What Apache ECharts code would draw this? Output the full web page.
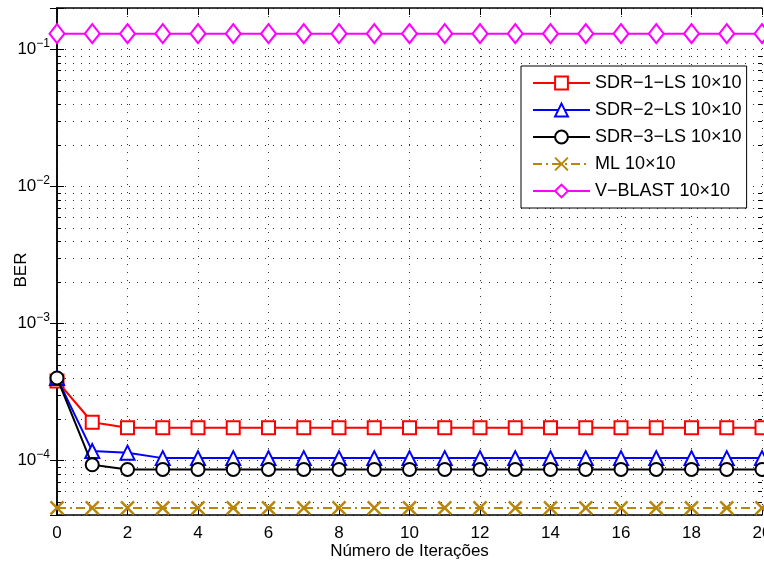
<!DOCTYPE html>
<html>
<head>
<meta charset="utf-8">
<script src="https://cdn.jsdelivr.net/npm/echarts@6/dist/echarts.min.js"></script>
<style>html,body{margin:0;padding:0;background:#fff}#c{width:764px;height:562px}</style>
</head>
<body>
<div id="c"></div>
<script>
const iterations = [0,1,2,3,4,5,6,7,8,9,10,11,12,13,14,15,16,17,18,19,20];
const sdr1 = [3.8e-4,1.9e-4,1.73e-4,1.73e-4,1.73e-4,1.73e-4,1.73e-4,1.73e-4,1.73e-4,1.73e-4,1.73e-4,1.73e-4,1.73e-4,1.73e-4,1.73e-4,1.73e-4,1.73e-4,1.73e-4,1.73e-4,1.73e-4,1.73e-4];
const sdr2 = [4.0e-4,1.17e-4,1.14e-4,1.04e-4,1.04e-4,1.04e-4,1.04e-4,1.04e-4,1.04e-4,1.04e-4,1.04e-4,1.04e-4,1.04e-4,1.04e-4,1.04e-4,1.04e-4,1.04e-4,1.04e-4,1.04e-4,1.04e-4,1.04e-4];
const sdr3 = [4.0e-4,9.3e-5,8.6e-5,8.6e-5,8.6e-5,8.6e-5,8.6e-5,8.6e-5,8.6e-5,8.6e-5,8.6e-5,8.6e-5,8.6e-5,8.6e-5,8.6e-5,8.6e-5,8.6e-5,8.6e-5,8.6e-5,8.6e-5,8.6e-5];
const ml = [4.5e-5,4.5e-5,4.5e-5,4.5e-5,4.5e-5,4.5e-5,4.5e-5,4.5e-5,4.5e-5,4.5e-5,4.5e-5,4.5e-5,4.5e-5,4.5e-5,4.5e-5,4.5e-5,4.5e-5,4.5e-5,4.5e-5,4.5e-5,4.5e-5];
const vblast = [0.13,0.13,0.13,0.13,0.13,0.13,0.13,0.13,0.13,0.13,0.13,0.13,0.13,0.13,0.13,0.13,0.13,0.13,0.13,0.13,0.13];
const seriesNames = ['SDR\u22121\u2212LS 10\u00d710','SDR\u22122\u2212LS 10\u00d710','SDR\u22123\u2212LS 10\u00d710','ML 10\u00d710','V\u2212BLAST 10\u00d710'];
const minorTicks = [5e-5,6e-5,7e-5,8e-5,9e-5,2e-4,3e-4,4e-4,5e-4,6e-4,7e-4,8e-4,9e-4,2e-3,3e-3,4e-3,5e-3,6e-3,7e-3,8e-3,9e-3,2e-2,3e-2,4e-2,5e-2,6e-2,7e-2,8e-2,9e-2];
const X_MIN = 0, X_MAX = 20, Y_MIN = 4e-5, Y_MAX = 0.2;

const FONT = 'Liberation Sans';
const chart = echarts.init(document.getElementById('c'), null, {renderer: 'canvas'});
const pair = arr => arr.map((v, i) => [iterations[i], v]);
const dotted = {color: '#333', width: 1, type: [1, 7]};

function yLabel(v) {
  const l = Math.log10(v);
  const e = Math.round(l);
  if (Math.abs(l - e) > 1e-6) return '';
  return '{b|10}{s|\u2212' + (-e) + '}';
}

const option = {
  animation: false,
  backgroundColor: '#fff',
  textStyle: {fontFamily: FONT},
  grid: {left: 57, right: 2, top: 8, bottom: 47, outerBoundsMode: 'none', containLabel: false},
  legend: {
    data: seriesNames,
    orient: 'vertical',
    left: 521, top: 66,
    padding: [8, 5, 8, 11],
    itemWidth: 57, itemHeight: 16, itemGap: 9,
    selectedMode: false,
    backgroundColor: '#fff',
    borderColor: '#000', borderWidth: 1,
    textStyle: {fontFamily: FONT, fontSize: 18, color: '#000'},
    z: 10
  },
  xAxis: [{
    type: 'value', min: X_MIN, max: X_MAX, interval: 2,
    name: 'N\u00famero de Itera\u00e7\u00f5es', nameLocation: 'middle', nameGap: 28, nameMoveOverlap: false,
    nameTextStyle: {fontFamily: FONT, fontSize: 17, color: '#000'},
    axisLine: {lineStyle: {color: '#000', width: 1.5}},
    axisTick: {inside: true, length: 7, lineStyle: {color: '#000', width: 1}},
    axisLabel: {fontFamily: FONT, fontSize: 17, color: '#000', margin: 10},
    splitLine: {show: true, lineStyle: dotted}
  }, {
    type: 'value', min: X_MIN, max: X_MAX, interval: 2, position: 'top',
    axisLine: {lineStyle: {color: '#000', width: 1.5}},
    axisTick: {inside: true, length: 7, lineStyle: {color: '#000', width: 1}},
    axisLabel: {show: false},
    splitLine: {show: false}
  }],
  yAxis: [{
    type: 'log', logBase: 10, min: Y_MIN, max: Y_MAX,
    name: 'BER', nameLocation: 'middle', nameGap: 27, nameMoveOverlap: false,
    nameTextStyle: {fontFamily: FONT, fontSize: 17, color: '#000', padding: [0, 0, 0, -17]},
    axisLine: {show: true, lineStyle: {color: '#000', width: 1.5}},
    axisTick: {inside: true, length: 7, lineStyle: {color: '#000', width: 1}},
    axisLabel: {
      margin: 7, formatter: yLabel,
      rich: {
        b: {fontFamily: FONT, fontSize: 17, color: '#000', lineHeight: 24},
        s: {fontFamily: FONT, fontSize: 12, color: '#000', verticalAlign: 'top', lineHeight: 13}
      }
    },
    splitLine: {show: true, lineStyle: dotted}
  }, {
    type: 'log', logBase: 10, min: Y_MIN, max: Y_MAX, position: 'right',
    axisLine: {show: true, lineStyle: {color: '#000', width: 1.5}},
    axisTick: {inside: true, length: 7, lineStyle: {color: '#000', width: 1}},
    axisLabel: {show: false},
    splitLine: {show: false}
  }],
  series: [
    {
      type: 'custom', coordinateSystem: 'cartesian2d', xAxisIndex: 0, yAxisIndex: 0,
      silent: true, z: 1,
      data: minorTicks.map(v => [X_MIN, v]),
      renderItem: function (params, api) {
        const v = api.value(1);
        const p0 = api.coord([X_MIN, v]);
        const p1 = api.coord([X_MAX, v]);
        const y = Math.round(p0[1]) + 0.5;
        return {type: 'group', children: [
          {type: 'line', shape: {x1: p0[0], y1: y, x2: p1[0], y2: y}, style: {stroke: '#333', lineWidth: 1, lineDash: [1, 7]}},
          {type: 'line', shape: {x1: p0[0], y1: y, x2: p0[0] + 4, y2: y}, style: {stroke: '#000', lineWidth: 1}},
          {type: 'line', shape: {x1: p1[0] - 4, y1: y, x2: p1[0], y2: y}, style: {stroke: '#000', lineWidth: 1}}
        ]};
      }
    },
    {
      name: seriesNames[0], type: 'line', data: pair(sdr1), clip: false, z: 3,
      symbol: 'emptyRect', symbolSize: 13,
      lineStyle: {color: '#ff0000', width: 2},
      itemStyle: {color: '#ff0000', borderColor: '#ff0000', borderWidth: 2}
    },
    {
      name: seriesNames[1], type: 'line', data: pair(sdr2), clip: false, z: 4,
      symbol: 'emptyTriangle', symbolSize: 14,
      lineStyle: {color: '#0000ff', width: 2},
      itemStyle: {color: '#0000ff', borderColor: '#0000ff', borderWidth: 2}
    },
    {
      name: seriesNames[2], type: 'line', data: pair(sdr3), clip: false, z: 5,
      symbol: 'emptyCircle', symbolSize: 13,
      lineStyle: {color: '#000000', width: 2},
      itemStyle: {color: '#000000', borderColor: '#000000', borderWidth: 2}
    },
    {
      name: seriesNames[3], type: 'line', data: pair(ml), clip: false, z: 3,
      symbol: 'path://M0,0L10,10M0,10L10,0', symbolSize: 13,
      lineStyle: {color: '#b8860b', width: 2, type: [9, 4, 2, 4]},
      itemStyle: {color: '#b8860b', borderColor: '#b8860b', borderWidth: 2.5}
    },
    {
      name: seriesNames[4], type: 'line', data: pair(vblast), clip: false, z: 3,
      symbol: 'emptyDiamond', symbolSize: [15, 19],
      lineStyle: {color: '#ff00ff', width: 2},
      itemStyle: {color: '#ff00ff', borderColor: '#ff00ff', borderWidth: 2}
    }
  ]
};
chart.setOption(option);
</script>
</body>
</html>
